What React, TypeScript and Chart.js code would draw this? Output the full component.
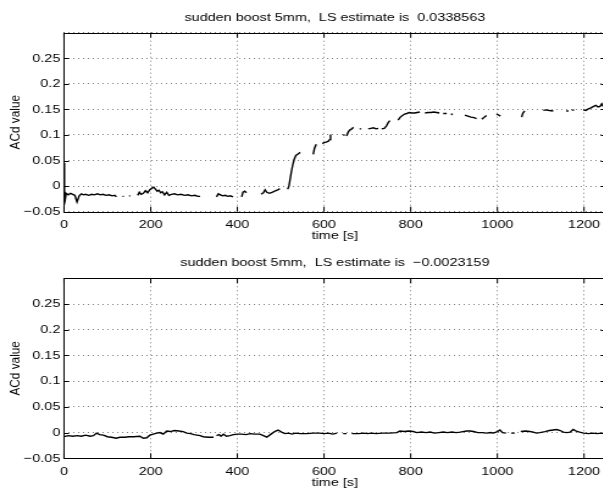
import React, { useEffect, useRef } from 'react';
import { Chart, registerables } from 'chart.js';

Chart.register(...registerables);

// ---------------- data ----------------
const topTitle = 'sudden boost 5mm,  LS estimate is  0.0338563';
const bottomTitle = 'sudden boost 5mm,  LS estimate is  \u22120.0023159';
const xLabel = 'time [s]';
const yLabel = 'ACd value';

const xTicks = [0, 200, 400, 600, 800, 1000, 1200];
const xTickLabels = ['0', '200', '400', '600', '800', '1000', '1200'];
const yTicks = [-0.05, 0, 0.05, 0.1, 0.15, 0.2, 0.25, 0.3];
const yTickLabels = ['\u22120.05', '0', '0.05', '0.1', '0.15', '0.2', '0.25', ''];

const topTime = [
  0, 1, 3, 5, 10, 15, 20, 25, 30, 35, 40, 45, 50, 57, 64, 70, 77, 84, 90, 97, 104, 111, 117, 121, 125,
  135, 138, 140, 150, 153, 155,
  170, 174, 178, 183, 188, 193, 198, 203, 207, 211, 215, 219, 223, 227, 232, 237, 242, 248, 255, 262, 270, 278, 286, 294, 302, 309, 314, 320,
  352, 356, 361, 366, 372, 378, 384, 390, 395,
  410, 413, 417, 421, 425,
  455, 460, 464, 468, 474, 480, 486, 492, 498, 505,
  516, 519, 522, 525, 528, 531, 535, 540, 545, 550,
  575, 578, 582, 585,
  596, 600, 605, 610, 613, 615, 618,
  644, 648, 650,
  652, 656, 660, 664, 668, 672,
  682, 686, 690,
  702, 708, 714, 720, 725, 728,
  733, 739, 744, 748, 752, 756,
  771, 776, 781, 786, 791, 797, 803, 809, 815, 821, 826,
  833, 840, 847, 853, 860, 866, 870,
  875, 883, 887,
  893, 897, 900,
  925, 932, 939, 946, 952, 957,
  964, 969, 975, 980,
  998, 1003, 1007, 1012,
  1056, 1059, 1063, 1067,
  1106, 1113, 1120, 1129, 1134,
  1159, 1164, 1167,
  1172, 1177, 1182,
  1198, 1204, 1210, 1216, 1222, 1227, 1232, 1237, 1241, 1245, 1250,
];
const topACd = [
  0.045, -0.008, -0.025, -0.014, -0.017, -0.014, -0.016, -0.018, -0.031, -0.019, -0.015, -0.017, -0.016, -0.018, -0.016, -0.017, -0.015, -0.017, -0.016, -0.018, -0.017, -0.019, -0.018, -0.021, null,
  -0.02, -0.02, null, -0.019, -0.019, null,
  -0.018, -0.012, -0.016, -0.014, -0.009, -0.013, -0.007, -0.004, -0.002, -0.006, -0.01, -0.008, -0.013, -0.011, -0.017, -0.012, -0.018, -0.016, -0.015, -0.017, -0.016, -0.018, -0.017, -0.019, -0.018, -0.02, -0.02, null,
  -0.021, -0.015, -0.017, -0.019, -0.018, -0.02, -0.019, -0.021, null,
  -0.021, -0.012, -0.01, -0.013, null,
  -0.016, -0.013, -0.007, -0.012, -0.014, -0.012, -0.01, -0.008, -0.005, null,
  -0.006, 0.0, 0.015, 0.03, 0.042, 0.052, 0.06, 0.063, 0.066, null,
  0.062, 0.074, 0.082, null,
  0.083, 0.085, 0.086, 0.088, 0.091, 0.101, null,
  0.1, 0.1, null,
  0.098, 0.106, 0.11, 0.112, 0.115, null,
  0.112, 0.112, null,
  0.112, 0.113, 0.114, 0.112, 0.113, null,
  0.112, 0.113, 0.118, 0.124, 0.128, null,
  0.129, 0.135, 0.138, 0.141, 0.142, 0.144, 0.143, 0.143, 0.144, 0.145, null,
  0.143, 0.144, 0.144, 0.145, 0.144, 0.143, null,
  0.142, 0.142, null,
  0.141, 0.14, null,
  0.139, 0.137, 0.135, 0.134, 0.132, null,
  0.131, 0.134, 0.138, null,
  0.141, 0.139, 0.137, null,
  0.135, 0.143, 0.147, null,
  0.148, 0.149, 0.148, 0.147, null,
  0.147, 0.147, null,
  0.148, 0.149, null,
  0.149, 0.148, 0.151, 0.153, 0.156, 0.158, 0.155, 0.156, 0.161, 0.156, 0.154,
];

const bottomTime = [
  0, 10, 20, 30, 40, 50, 60, 68, 75, 82, 91, 100, 110, 120, 129, 140, 150, 160, 175, 183, 191, 198, 206, 214, 221, 229, 237, 245, 255, 265, 275, 283, 292, 300, 314, 321, 333, 345, 348,
  352, 358, 362, 368, 375, 383, 391, 400, 410, 420, 430, 440, 452, 460, 468, 476, 486, 494, 502, 510, 518, 526, 534, 545, 560, 575, 590, 600, 610, 620, 630, 636,
  644, 652, 656,
  664, 672, 680, 691, 700, 710, 720, 735, 750, 768, 775, 785, 795, 806, 814, 825, 835, 845, 855, 865, 875, 885, 895, 905, 914, 929, 937, 945, 955, 965, 975, 985, 991, 1000, 1006, 1012, 1020, 1026,
  1032, 1040, 1046,
  1054, 1065, 1075, 1083, 1090, 1098, 1110, 1120, 1129, 1137, 1145, 1152, 1160, 1168, 1175, 1182, 1190, 1199, 1210, 1220, 1230, 1240, 1250,
];
const bottomACd = [
  -0.008, -0.006, -0.007, -0.006, -0.007, -0.005, -0.007, -0.006, -0.001, -0.004, -0.005, -0.008, -0.009, -0.011, -0.009, -0.009, -0.008, -0.008, -0.007, -0.011, -0.01, -0.005, -0.003, -0.001, 0.0, -0.003, 0.003, 0.002, 0.004, 0.003, 0.002, -0.001, -0.002, -0.004, -0.006, -0.008, -0.009, -0.009, null,
  -0.006, -0.004, -0.007, -0.003, -0.007, -0.006, -0.004, -0.003, -0.003, -0.004, -0.002, -0.003, -0.003, -0.006, -0.009, -0.004, 0.002, 0.005, 0.001, -0.002, -0.001, -0.003, -0.001, -0.002, -0.002, -0.001, -0.001, -0.002, -0.001, -0.003, -0.001, null,
  -0.002, -0.002, null,
  -0.002, -0.002, -0.002, -0.001, -0.002, -0.001, -0.002, -0.001, -0.001, 0.0, 0.003, 0.002, 0.003, 0.002, 0.0, 0.001, 0.0, 0.001, -0.001, 0.0, 0.001, 0.0, 0.001, 0.0, 0.001, 0.003, 0.003, 0.002, 0.0, 0.0, -0.001, 0.0, -0.001, 0.002, 0.005, 0.0, -0.001, null,
  -0.001, -0.001, null,
  0.002, 0.003, 0.002, 0.001, -0.001, 0.0, 0.002, 0.004, 0.005, 0.006, 0.004, 0.001, 0.0, 0.001, 0.006, 0.003, 0.001, -0.001, -0.002, -0.001, -0.002, -0.001, -0.002,
];

// ---------------- layout (canvas is stretched horizontally like the original figure) ----------------
const S = 1.22; // horizontal stretch
const CSS_W = 610;
const W = Math.round(CSS_W / S);
const H = 247;
const AREA_LEFT = 64 / S;
const AREA_RIGHT = 605.7 / S;
const FONT = '"Liberation Sans", Arial, Helvetica, sans-serif';
const FS = 11.8;

function makeConfig(times: number[], values: (number | null)[], title: string, padTop: number, areaBottom: number): any {
  const points = times.map((t, i) => ({ x: t, y: values[i] }));
  const framePlugin = {
    id: 'matlabFrame',
    afterDraw(chart: any) {
      const { ctx, chartArea } = chart;
      const { left, right, top, bottom } = chartArea;
      const xs = chart.scales.x;
      const ys = chart.scales.y;
      ctx.save();
      ctx.strokeStyle = '#000';
      ctx.lineWidth = 1;
      ctx.setLineDash([]);
      ctx.strokeRect(left, Math.round(top) + 0.5, right - left, Math.round(bottom) - Math.round(top));
      ctx.beginPath();
      for (const v of xTicks) {
        const px = xs.getPixelForValue(v);
        ctx.moveTo(px, bottom);
        ctx.lineTo(px, bottom - 5);
        ctx.moveTo(px, top);
        ctx.lineTo(px, top + 5);
      }
      for (const v of yTicks) {
        const py = Math.round(ys.getPixelForValue(v)) + 0.5;
        ctx.moveTo(left, py);
        ctx.lineTo(left + 5 / S, py);
        ctx.moveTo(right, py);
        ctx.lineTo(right - 5 / S, py);
      }
      ctx.stroke();
      ctx.fillStyle = '#000';
      ctx.font = `${FS}px ${FONT}`;
      ctx.textAlign = 'center';
      ctx.textBaseline = 'alphabetic';
      const cx = (left + right) / 2;
      ctx.fillText(title, cx, top - 12);
      ctx.fillText(xLabel, cx, bottom + 27.5);
      ctx.translate(20 / S, (top + bottom) / 2);
      ctx.rotate(-Math.PI / 2);
      ctx.fillText(yLabel, 0, 0);
      ctx.restore();
    },
  };
  return {
    type: 'line',
    data: {
      datasets: [
        {
          data: points,
          borderColor: '#000',
          borderWidth: 1.4,
          pointRadius: 0,
          fill: false,
          spanGaps: false,
          tension: 0,
        },
      ],
    },
    options: {
      animation: false,
      responsive: false,
      maintainAspectRatio: false,
      events: [],
      layout: { padding: { top: padTop, left: 0, right: W - AREA_RIGHT, bottom: 0 } },
      plugins: { legend: { display: false }, tooltip: { enabled: false }, title: { display: false } },
      scales: {
        x: {
          type: 'linear',
          min: 0,
          max: 1250,
          afterBuildTicks: (scale: any) => {
            scale.ticks = xTicks.map((v) => ({ value: v }));
          },
          afterFit: (scale: any) => {
            scale.height = H - areaBottom;
          },
          ticks: {
            autoSkip: false,
            maxRotation: 0,
            padding: 6,
            color: '#000',
            font: { family: FONT, size: FS },
            callback: (_v: any, i: number) => xTickLabels[i],
          },
          grid: { drawTicks: false, color: 'rgba(0,0,0,0.5)', lineWidth: 1 },
          border: { display: false, dash: [1, 3] },
        },
        y: {
          type: 'linear',
          min: -0.05,
          max: 0.3,
          afterBuildTicks: (scale: any) => {
            scale.ticks = yTicks.map((v) => ({ value: v }));
          },
          afterFit: (scale: any) => {
            scale.width = AREA_LEFT;
          },
          ticks: {
            autoSkip: false,
            padding: 3,
            color: '#000',
            font: { family: FONT, size: FS },
            callback: (_v: any, i: number) => yTickLabels[i],
          },
          grid: { drawTicks: false, color: 'rgba(0,0,0,0.5)', lineWidth: 1 },
          border: { display: false, dash: [1, 3] },
        },
      },
    },
    plugins: [framePlugin],
  };
}

export default function App() {
  const topRef = useRef<HTMLCanvasElement | null>(null);
  const bottomRef = useRef<HTMLCanvasElement | null>(null);

  useEffect(() => {
    const charts: Chart[] = [];
    if (topRef.current) {
      charts.push(new Chart(topRef.current, makeConfig(topTime, topACd, topTitle, 32.7, 211.7)));
    }
    if (bottomRef.current) {
      charts.push(new Chart(bottomRef.current, makeConfig(bottomTime, bottomACd, bottomTitle, 31.3, 211.3)));
    }
    return () => {
      charts.forEach((c) => c.destroy());
    };
  }, []);

  const canvasStyle: React.CSSProperties = { display: 'block', width: `${CSS_W}px`, height: `${H}px` };
  return (
    <div style={{ position: 'fixed', left: 0, top: 0, width: 603, height: 494, overflow: 'hidden', background: '#fff' }}>
      <canvas ref={topRef} width={W} height={H} style={canvasStyle} />
      <canvas ref={bottomRef} width={W} height={H} style={canvasStyle} />
    </div>
  );
}
